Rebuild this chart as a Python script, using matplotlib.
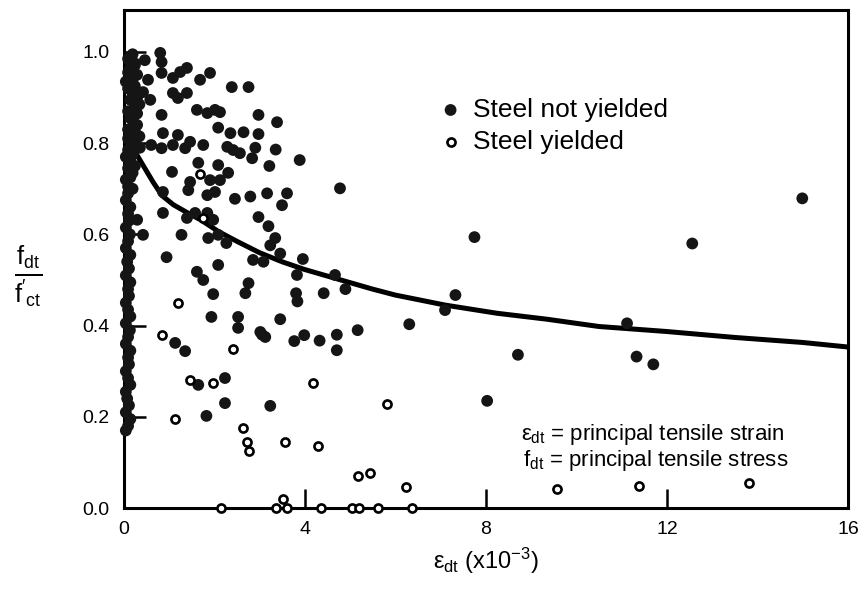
import matplotlib
matplotlib.use("Agg")
import matplotlib.pyplot as plt

plt.rcParams['font.family'] = ['Liberation Sans', 'DejaVu Sans']
plt.rcParams['mathtext.fontset'] = 'custom'
plt.rcParams['mathtext.rm'] = 'Liberation Sans'
plt.rcParams['mathtext.it'] = 'Liberation Sans'

# steel not yielded (filled dots)
# points packed along the vertical axis (they merge into a solid bar)
axis_x = [0.05, 0.1, 0.15, 0.05, 0.12, 0.08, 0.05, 0.15, 0.1, 0.05, 0.12,
          0.1, 0.15, 0.05, 0.1, 0.14, 0.05, 0.15, 0.1, 0.05, 0.12, 0.1,
          0.15, 0.05, 0.12, 0.08, 0.15, 0.05, 0.1, 0.14, 0.05, 0.12, 0.1,
          0.15, 0.05, 0.1, 0.2, 0.1, 0.05, 0.15, 0.2, 0.1, 0.25, 0.15,
          0.05, 0.2, 0.1, 0.3, 0.2, 0.1, 0.35, 0.25, 0.1, 0.3, 0.2, 0.15,
          0.3, 0.1, 0.25, 0.35, 0.15, 0.3, 0.2, 0.1, 0.25, 0.05, 0.2, 0.3,
          0.1, 0.15, 0.25, 0.1, 0.2]
axis_y = [0.17, 0.18, 0.195, 0.21, 0.225, 0.24, 0.255, 0.27, 0.285, 0.30,
          0.315, 0.33, 0.345, 0.36, 0.375, 0.39, 0.405, 0.42, 0.435, 0.45,
          0.465, 0.48, 0.495, 0.51, 0.525, 0.54, 0.555, 0.57, 0.585, 0.60,
          0.615, 0.63, 0.645, 0.66, 0.675, 0.69, 0.70, 0.705, 0.72, 0.725,
          0.735, 0.745, 0.75, 0.76, 0.77, 0.775, 0.785, 0.79, 0.80, 0.81,
          0.815, 0.825, 0.83, 0.84, 0.85, 0.855, 0.865, 0.87, 0.88, 0.885,
          0.895, 0.90, 0.91, 0.92, 0.925, 0.935, 0.94, 0.95, 0.955, 0.965,
          0.975, 0.985, 0.995]

nyield_x = [0.81, 0.84, 0.84, 0.47, 0.25, 1.09, 1.25, 1.40, 1.69, 1.91, 2.39,
            2.76, 0.54, 0.43, 0.59, 1.09, 1.40, 1.20, 0.84, 1.62, 1.85, 2.02,
            2.13, 0.87, 1.20, 0.36, 0.61, 0.84, 1.09, 1.36, 1.47, 1.76, 2.09,
            2.36, 2.65, 2.98, 2.98, 3.39, 2.29, 2.42, 2.57, 2.91, 2.84, 3.36,
            3.22, 3.89, 1.07, 1.65, 2.09, 2.31, 1.91, 2.13, 1.47, 1.43, 4.78,
            2.46, 2.80, 3.17, 3.61, 3.50, 1.85, 2.02, 0.87, 0.87, 1.40, 1.58,
            1.85, 1.98, 1.28, 1.87, 2.09, 2.27, 2.98, 3.20, 3.35, 3.24, 3.46,
            3.96, 2.86, 3.09, 0.95, 1.62, 1.76, 2.09, 3.83, 4.67, 4.90, 2.76,
            2.69, 1.98, 3.81, 3.84, 4.42, 0.30, 0.43, 1.94, 2.53, 2.53, 3.46,
            1.14, 1.36, 3.02, 3.13, 3.06, 3.77, 3.99, 4.33, 4.71, 4.71, 5.17,
            1.65, 2.24, 2.24, 1.83, 3.24, 7.33, 7.10, 6.31, 7.75, 8.71, 8.03,
            11.12, 11.33, 11.70, 12.56, 14.99]
nyield_y = [0.998, 0.978, 0.954, 0.982, 0.971, 0.943, 0.956, 0.965, 0.939,
            0.954, 0.923, 0.923, 0.939, 0.912, 0.895, 0.910, 0.910, 0.899,
            0.862, 0.873, 0.866, 0.873, 0.868, 0.822, 0.818, 0.790, 0.796,
            0.789, 0.796, 0.789, 0.803, 0.796, 0.834, 0.822, 0.824, 0.820,
            0.862, 0.846, 0.792, 0.785, 0.778, 0.790, 0.767, 0.786, 0.750,
            0.763, 0.737, 0.757, 0.752, 0.735, 0.719, 0.719, 0.715, 0.697,
            0.701, 0.678, 0.683, 0.690, 0.690, 0.664, 0.686, 0.693, 0.693,
            0.647, 0.636, 0.647, 0.647, 0.632, 0.599, 0.592, 0.599, 0.581,
            0.638, 0.618, 0.592, 0.576, 0.558, 0.546, 0.544, 0.540, 0.550,
            0.518, 0.500, 0.533, 0.511, 0.511, 0.480, 0.493, 0.471, 0.469,
            0.471, 0.453, 0.471, 0.632, 0.599, 0.419, 0.419, 0.395, 0.414,
            0.362, 0.344, 0.386, 0.375, 0.380, 0.366, 0.379, 0.367, 0.380,
            0.346, 0.390, 0.270, 0.285, 0.230, 0.202, 0.224, 0.467, 0.434,
            0.403, 0.594, 0.336, 0.235, 0.405, 0.332, 0.315, 0.580, 0.679]

# steel yielded (open circles)
yield_x = [1.68, 1.76, 1.20, 0.84, 2.42, 1.47, 1.98, 1.14, 2.64, 2.72, 2.77,
           3.57, 4.18, 4.29, 5.17, 5.45, 5.82, 6.24, 9.57, 11.38, 13.81, 3.53,
           2.15, 3.36, 3.62, 4.36, 5.04, 5.21, 5.63, 6.37]
yield_y = [0.732, 0.635, 0.450, 0.379, 0.349, 0.281, 0.274, 0.195, 0.175,
           0.145, 0.124, 0.145, 0.274, 0.135, 0.070, 0.076, 0.228, 0.047,
           0.041, 0.048, 0.054, 0.020, 0.0, 0.0, 0.0, 0.0, 0.0, 0.0, 0.0, 0.0]

# fitted curve
curve_x = [0.12, 0.2, 0.35, 0.5, 0.65, 0.85, 1.1, 1.4, 1.7, 2.1, 2.5, 3.0,
           3.5, 4.0, 4.8, 5.5, 6.0, 7.1, 8.25, 9.35, 10.5, 12.0, 13.5, 15.0,
           16.0]
curve_y = [0.82, 0.79, 0.765, 0.74, 0.715, 0.685, 0.665, 0.648, 0.632, 0.606,
           0.585, 0.56, 0.54, 0.523, 0.50, 0.48, 0.467, 0.445, 0.427, 0.414,
           0.398, 0.387, 0.374, 0.363, 0.353]

x_ticks = [0, 4, 8, 12, 16]
y_ticks = [0.0, 0.2, 0.4, 0.6, 0.8, 1.0]

fig = plt.figure(figsize=(8.64, 5.89), dpi=100)
ax = fig.add_axes([0.143, 0.1375, 0.8385, 0.8455])

ax.scatter(axis_x, axis_y, s=72, c='#151515', edgecolors='none', clip_on=False, zorder=3)
ax.scatter(nyield_x, nyield_y, s=72, c='#151515', edgecolors='none', clip_on=False,
           zorder=3, label='Steel not yielded')
ax.scatter(yield_x, yield_y, s=34, facecolors='white', edgecolors='black',
           linewidths=1.9, clip_on=False, zorder=4, label='Steel yielded')
ax.plot(curve_x, curve_y, color='black', lw=3.6, solid_capstyle='butt', zorder=2)

ax.set_xlim(0, 16)
ax.set_ylim(0, 1.092)
ax.set_xticks(x_ticks)
ax.set_xticklabels([str(t) for t in x_ticks])
ax.set_yticks(y_ticks)
ax.set_yticklabels(['%.1f' % t for t in y_ticks])
ax.tick_params(axis='x', direction='in', length=13.5, width=1.8, pad=9, labelsize=14)
ax.tick_params(axis='y', direction='in', length=16, width=1.8, pad=10, labelsize=14)
for sp in ax.spines.values():
    sp.set_linewidth(2.2)

leg = ax.legend(loc='upper left', bbox_to_anchor=(0.415, 0.85), frameon=False,
                fontsize=19, handletextpad=0.35, labelspacing=0.3,
                borderpad=0, handlelength=1.0, scatterpoints=1)

ax.text(0.912, 0.147, r'$\varepsilon_{\rm dt}$ = principal tensile strain',
        transform=ax.transAxes, ha='right', va='center', fontsize=16)
ax.text(0.918, 0.096, r'$\rm f_{dt}$ = principal tensile stress',
        transform=ax.transAxes, ha='right', va='center', fontsize=16)

ax.set_xlabel(r'$\varepsilon_{\rm dt}$ (x10$^{-3}$)', fontsize=17, labelpad=6)
fig.text(0.032, 0.53, r"$\frac{\rm f_{dt}}{\rm f'_{ct}}$", fontsize=26,
         ha='center', va='center')

fig.savefig('out.png', dpi=100)
